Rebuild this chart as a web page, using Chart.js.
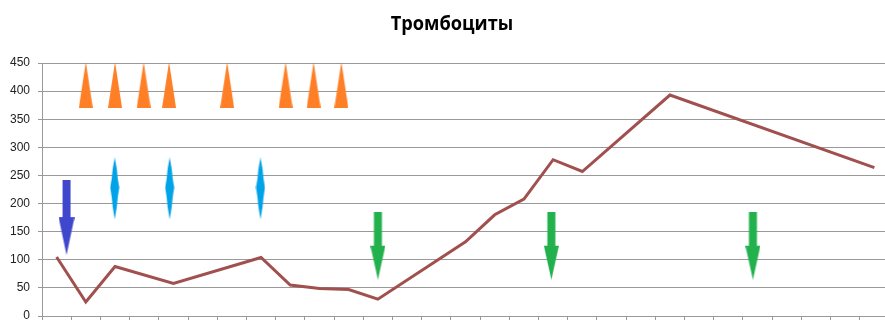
<!DOCTYPE html>
<html>
<head>
<meta charset="utf-8">
<script src="https://cdn.jsdelivr.net/npm/chart.js@4/dist/chart.umd.min.js"></script>
<style>
  html, body { margin: 0; padding: 0; background: #fff; overflow: hidden; }
  canvas { display: block; }
</style>
</head>
<body>
<canvas id="chart" width="889" height="320"></canvas>
<script>
// Data
const days = ["1","2","3","4","5","6","7","8","9","10","11","12","13","14","15",
              "16","17","18","19","20","21","22","23","24","25","26","27","28","29"];
const platelets = [105, 25, 88, null, 58, null, null, 104, 55, 49, 47, 30, null, null,
                   132, 180, 208, 278, 257, null, null, 393, null, null, null, null, null, null, 264];
const yTicks = [0, 50, 100, 150, 200, 250, 300, 350, 400, 450];
const chartTitle = 'Тромбоциты';

// annotation marks (x = day index, y = value at mark centre)
const orangeX = [1, 2, 2.98, 3.85, 5.84, 7.84, 8.8, 9.75];
const orangeY = [411, 411, 411, 411, 411, 411, 411, 411];
const cyanX = [1.99, 3.87, 6.98];
const cyanY = [227, 227, 227];
const blueX = [0.34];
const blueY = [175];
const greenX = [11, 16.94, 23.84];
const greenY = [125, 125, 125];

function makeShape(w, h, color, pts) {
    const c = document.createElement('canvas');
    c.width = w;
    c.height = h;
    const ctx = c.getContext('2d');
    ctx.fillStyle = color;
    ctx.beginPath();
    pts.forEach((p, i) => i ? ctx.lineTo(p[0], p[1]) : ctx.moveTo(p[0], p[1]));
    ctx.closePath();
    ctx.fill();
    return c;
}

function downArrow(w, h, shaft, head, color) {
    const s0 = (w - shaft) / 2, s1 = s0 + shaft;
    return makeShape(w, h, color, [[s0, 0], [s1, 0], [s1, h - head], [w, h - head],
                                   [w / 2, h], [0, h - head], [s0, h - head]]);
}

const triangle = makeShape(14, 46, '#FF7F27', [[7, 0], [14, 46], [0, 46]]);
const lens = makeShape(10, 62, '#00A2E8', [[5, 0], [7, 11], [8, 21], [9.5, 30], [8, 40], [7, 50], [5, 62],
                                           [3, 50], [2, 40], [0.5, 30], [2, 21], [3, 11]]);
const blueArrow = downArrow(16, 75, 8, 38, '#3F48CC');
const greenArrow = downArrow(15, 68, 8, 34, '#22B14C');

function marks(xs, ys, img) {
    return {
        type: 'scatter',
        xAxisID: 'xm',
        data: xs.map((x, i) => ({ x: x, y: ys[i] })),
        pointStyle: img,
        pointRadius: 10,
        showLine: false,
        clip: false
    };
}

// title drawn by hand so it can sit off-centre like the original
const titlePlugin = {
    id: 'titleText',
    afterDraw(chart) {
        const c = chart.ctx;
        c.save();
        c.fillStyle = '#000';
        c.font = 'bold 20px "Open Sans"';
        c.textAlign = 'center';
        c.textBaseline = 'alphabetic';
        c.translate(452, 30);
        c.scale(0.91, 1);
        c.fillText(chartTitle, 0, 0);
        c.restore();
    }
};

const ctx = document.getElementById('chart').getContext('2d');
new Chart(ctx, {
    type: 'line',
    data: {
        labels: days,
        datasets: [
            {
                data: platelets,
                borderColor: '#A0504E',
                borderWidth: 3,
                pointRadius: 0,
                spanGaps: true,
                tension: 0
            },
            marks(orangeX, orangeY, triangle),
            marks(cyanX, cyanY, lens),
            marks(blueX, blueY, blueArrow),
            marks(greenX, greenY, greenArrow)
        ]
    },
    plugins: [titlePlugin],
    options: {
        responsive: false,
        animation: false,
        layout: { autoPadding: false, padding: { top: 63, left: 0, right: 0, bottom: 0 } },
        plugins: {
            legend: { display: false },
            tooltip: { enabled: false },
            title: { display: false }
        },
        scales: {
            x: {
                type: 'category',
                offset: true,
                grid: { offset: true, drawOnChartArea: false, color: '#999', tickLength: 5 },
                border: { color: '#999' },
                ticks: { display: false },
                afterFit: function(scale) {
                    scale.height = 4;
                    scale.paddingLeft = 0;
                    scale.paddingRight = 0;
                }
            },
            xm: {
                type: 'linear',
                display: false,
                min: -0.5,
                max: 28.5
            },
            y: {
                min: 0,
                max: 450,
                afterBuildTicks: function(scale) {
                    scale.ticks = yTicks.map(v => ({ value: v }));
                },
                grid: { color: '#999', tickLength: 4 },
                border: { color: '#999' },
                ticks: {
                    color: '#222',
                    padding: 8,
                    font: { family: 'Liberation Sans', size: 12 }
                },
                afterFit: function(scale) {
                    scale.width = 42;
                    scale.paddingTop = 0;
                    scale.paddingBottom = 0;
                }
            }
        }
    }
});
</script>
</body>
</html>
